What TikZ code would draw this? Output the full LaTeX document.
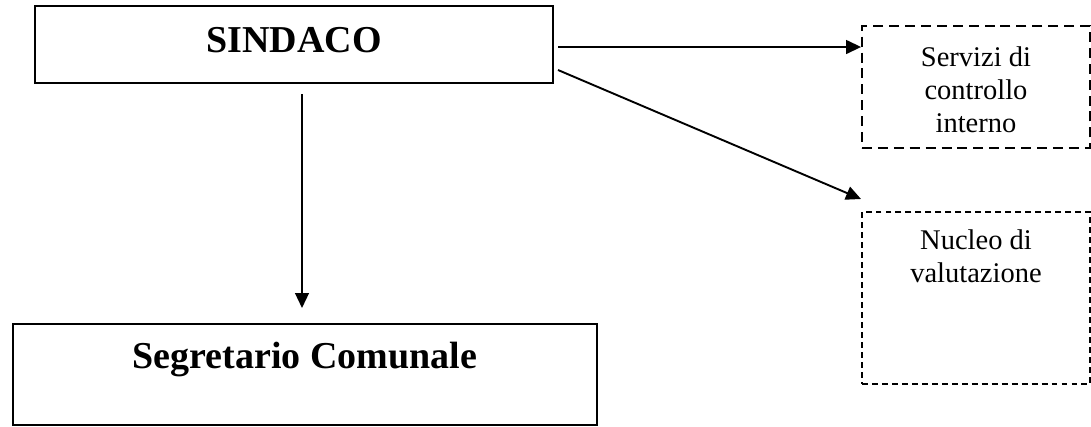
\documentclass[tikz,border=0pt]{standalone}
\usepackage{fontspec}
\setmainfont{Liberation Serif}
\usetikzlibrary{arrows.meta,positioning}
\tikzstyle{arrow} = [line width=0.8pt,-{Triangle[length=6.3pt,width=5.8pt]}]
\tikzstyle{box} = [draw, line width=0.85pt, inner sep=0pt]
\tikzstyle{dbox} = [draw, line width=0.75pt, inner sep=0pt, minimum width=96pt]
\tikzstyle{title} = [font=\fontsize{16}{19}\selectfont\bfseries, inner sep=0pt]
\tikzstyle{small} = [font=\fontsize{12}{13.9}\selectfont, align=center, inner sep=0pt, anchor=north]

\begin{document}
\begin{tikzpicture}[x=0.421pt, y=-0.421pt]
            \useasboundingbox (0,0) rectangle (1091,426);
            % riquadri principali
            \node[box, minimum width=218.1pt, minimum height=32.4pt] (sindaco) at (294,44.5) {};
            \node[title] (sindacotxt) at (294,40) {SINDACO};
            \node[box, minimum width=245.9pt, minimum height=42.5pt] (segretario) at (305,374.5) {};
            \node[title] (segretariotxt) at (305,359) {Segretario Comunale};

            % riquadri tratteggiati
            \node[dbox, dash pattern=on 4.2pt off 2.5pt, minimum height=51.4pt] (servizi) at (976,87) {};
            \node[small] (servizitxt) at (976,46) {Servizi di\\controllo\\interno};
            \node[dbox, dash pattern=on 2.5pt off 1.7pt, minimum height=72.4pt] (nucleo) at (976,298) {};
            \node[small] (nucleotxt) at (976,229.5) {Nucleo di\\valutazione};

            % frecce
            \coordinate (h0) at (558,47);
            \coordinate (d0) at (558,70);
            \coordinate (d1) at (861,199);
            \coordinate (v0) at (302,94);
            \coordinate (v1) at (302,308);
            \draw[arrow] (h0) -- (h0 -| servizi.west);
            \draw[arrow] (d0) -- (d1);
            \draw[arrow] (v0) -- (v1);
        \end{tikzpicture}
\end{document}
